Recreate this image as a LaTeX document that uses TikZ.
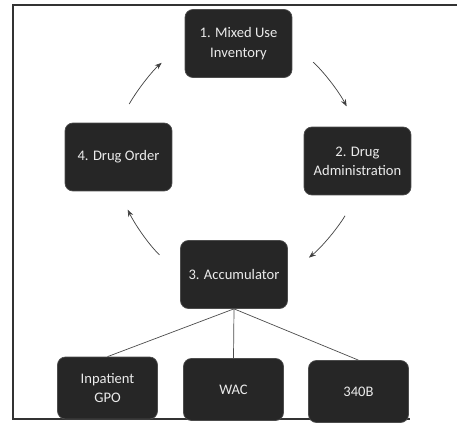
\documentclass[tikz,border=0pt]{standalone}
\usepackage{fontspec}
\setmainfont{Carlito}
\usetikzlibrary{arrows.meta}

\begin{document}
\begin{tikzpicture}[x=0.02cm, y=-0.02cm,
box/.style={draw=black!70, fill=black!85, text=black!8, rounded corners=4.5pt, align=center,
minimum width=2.14cm, minimum height=1.36cm, inner sep=1pt, font=\fontsize{8.3}{11}\selectfont},
leaf/.style={box, minimum width=2cm, minimum height=1.24cm},
cyc/.style={black!75, thin, >={Stealth[length=4pt,width=3pt]}, ->},
link/.style={black!70, thin}]

\def\bend{10}

% FRAME
\useasboundingbox (0,0) rectangle (457,425);
\draw[black!80, line width=0.7pt] (457,5) -- (13,5) -- (13,419) -- (410,419);

% CYCLE NODES
\node[box] (n1) at (238.5,43.5) {1. Mixed Use\\Inventory};
\node[box] (n2) at (357.5,161) {2. Drug\\Administration};
\node[box] (n3) at (234,274.5) {3. Accumulator};
\node[box] (n4) at (118.5,157) {4. Drug Order};

% PRICING NODES
\node[leaf] (gpo) at (107.5,388) {Inpatient\\GPO};
\node[leaf] (wac) at (233.5,389.5) {WAC};
\node[leaf] (b340) at (358.5,391.5) {340B};

% cycle arrows
\foreach \s/\t/\a/\b in {n4.north/n1.west/0.43/0.6, n1.east/n2.north/0.56/0.46,
    n2.south/n3.east/0.48/0.54, n3.west/n4.south/0.57/0.41}{
    \draw[cyc, shorten <=\a cm, shorten >=\b cm] (\s) to[bend left=\bend] (\t);
}

% links to pricing
\foreach \t in {gpo,wac,b340}{
    \draw[link] (n3.south) -- (\t.north);
}

\end{tikzpicture}
\end{document}
